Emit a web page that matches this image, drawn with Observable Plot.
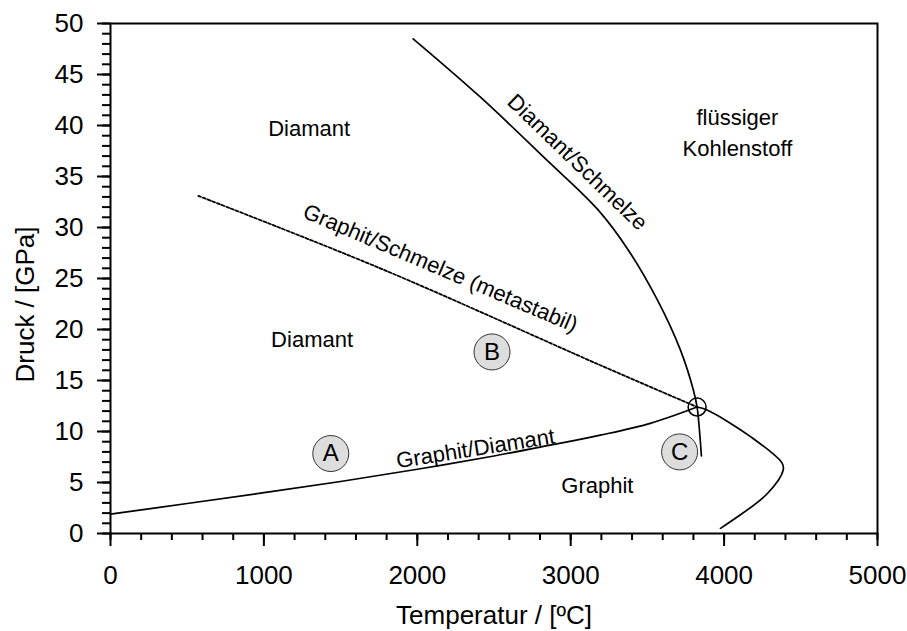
<!DOCTYPE html>
<html><head><meta charset="utf-8">
<script src="https://cdn.jsdelivr.net/npm/d3@7"></script>
<script src="https://cdn.jsdelivr.net/npm/@observablehq/plot@0.6"></script>
<style>body{margin:0;background:#fff}</style>
</head><body><div id="chart"></div>
<script>
// Axis ticks
const xTicks = [0, 1000, 2000, 3000, 4000, 5000];
const yTicks = [0, 5, 10, 15, 20, 25, 30, 35, 40, 45, 50];
const xMinor = d3.range(0, 5001, 200);
const yMinor = d3.range(0, 51, 1);

// Phase boundaries (T in °C, p in GPa)
const gdT = [0, 500, 1000, 1500, 2000, 2500, 2866, 3193, 3519, 3824];
const gdP = [1.9, 2.94, 4.0, 5.1, 6.3, 7.6, 8.66, 9.64, 10.8, 12.4];

const dsT = [1973, 2410, 2845, 3180, 3375, 3565, 3715, 3800, 3824, 3840, 3852];
const dsP = [48.5, 42.8, 36.6, 31.7, 27.8, 22.9, 18.0, 14.05, 12.4, 10.0, 7.6];

const glT = [3824, 3889, 4172, 4378, 4385, 4281, 3976];
const glP = [12.4, 12.1, 9.5, 6.9, 6.2, 3.9, 0.5];

const gmT = [573, 1758, 3193, 3824];
const gmP = [33.1, 26.0, 16.5, 12.4];

const tripleT = [3824];
const tripleP = [12.4];

// Region labels
const regionText = ["Diamant", "Diamant", "Graphit", "flüssiger", "Kohlenstoff"];
const regionT = [1295, 1314, 3174, 4087, 4087];
const regionP = [39.7, 19.0, 4.7, 40.7, 37.7];

// Boundary labels
const lineText = ["Diamant/Schmelze", "Graphit/Schmelze (metastabil)", "Graphit/Diamant"];
const lineT = [3043, 2150, 2380];
const lineP = [36.4, 26.0, 8.3];
const lineAngle = [44, 23, -9];

// Circled markers
const markText = ["A", "B", "C"];
const markT = [1436, 2487, 3710];
const markP = [7.84, 17.8, 8.0];

const zip = (T, P) => T.map((t, i) => ({t, p: P[i]}));
const regions = regionText.map((s, i) => ({s, t: regionT[i], p: regionP[i]}));
const lineLabels = lineText.map((s, i) => ({s, t: lineT[i], p: lineP[i], a: lineAngle[i]}));
const marks = markText.map((s, i) => ({s, t: markT[i], p: markP[i]}));

const font = 22;
const chart = Plot.plot({
  width: 907,
  height: 631,
  marginLeft: 110,
  marginRight: 30,
  marginTop: 23,
  marginBottom: 98,
  style: {fontFamily: "'Liberation Sans', Arial, sans-serif", background: "white", color: "black"},
  x: {domain: [0, 5000]},
  y: {domain: [0, 50]},
  marks: [
    Plot.line(zip(gdT, gdP), {x: "t", y: "p", curve: "catmull-rom", stroke: "black", strokeWidth: 1.7}),
    Plot.line(zip(dsT, dsP), {x: "t", y: "p", curve: "catmull-rom", stroke: "black", strokeWidth: 1.7}),
    Plot.line(zip(glT, glP), {x: "t", y: "p", curve: "catmull-rom", stroke: "black", strokeWidth: 1.7}),
    Plot.line(zip(gmT, gmP), {x: "t", y: "p", curve: "catmull-rom", stroke: "black", strokeWidth: 1.8, strokeDasharray: "3,2"}),
    Plot.dot(zip(tripleT, tripleP), {x: "t", y: "p", r: 9, stroke: "black", strokeWidth: 1.5, fill: "none"}),
    Plot.dot(marks, {x: "t", y: "p", r: 18, fill: "#dddddd", stroke: "#333", strokeWidth: 1}),
    Plot.text(marks, {x: "t", y: "p", text: "s", fontSize: 24, fill: "black"}),
    Plot.text(regions, {x: "t", y: "p", text: "s", fontSize: font, fill: "black"}),
    Plot.text(lineLabels, {x: "t", y: "p", text: "s", rotate: "a", fontSize: font, fill: "black"}),
    Plot.frame({stroke: "black", strokeWidth: 2}),
    Plot.axisX({ticks: xTicks, tickSize: 13, tickPadding: 19, fontSize: 26, strokeWidth: 2, label: null, tickFormat: d => String(d)}),
    Plot.axisX({ticks: xMinor, tickSize: 7, text: null, strokeWidth: 2, label: null}),
    Plot.axisY({ticks: yTicks, tickSize: 13, tickPadding: 14, fontSize: 26, strokeWidth: 2, label: null, tickFormat: d => String(d)}),
    Plot.axisY({ticks: yMinor, tickSize: 8, text: null, strokeWidth: 2, label: null}),
    Plot.text(["Temperatur / [ºC]"], {frameAnchor: "bottom", dy: 72, lineAnchor: "top", textAnchor: "middle", fontSize: 26, fill: "black"}),
    Plot.text(["Druck / [GPa]"], {frameAnchor: "left", dx: -85, dy: 26, rotate: -90, textAnchor: "middle", lineAnchor: "middle", fontSize: 26, fill: "black"})
  ]
});
document.getElementById("chart").appendChild(chart);
</script>
</body></html>
